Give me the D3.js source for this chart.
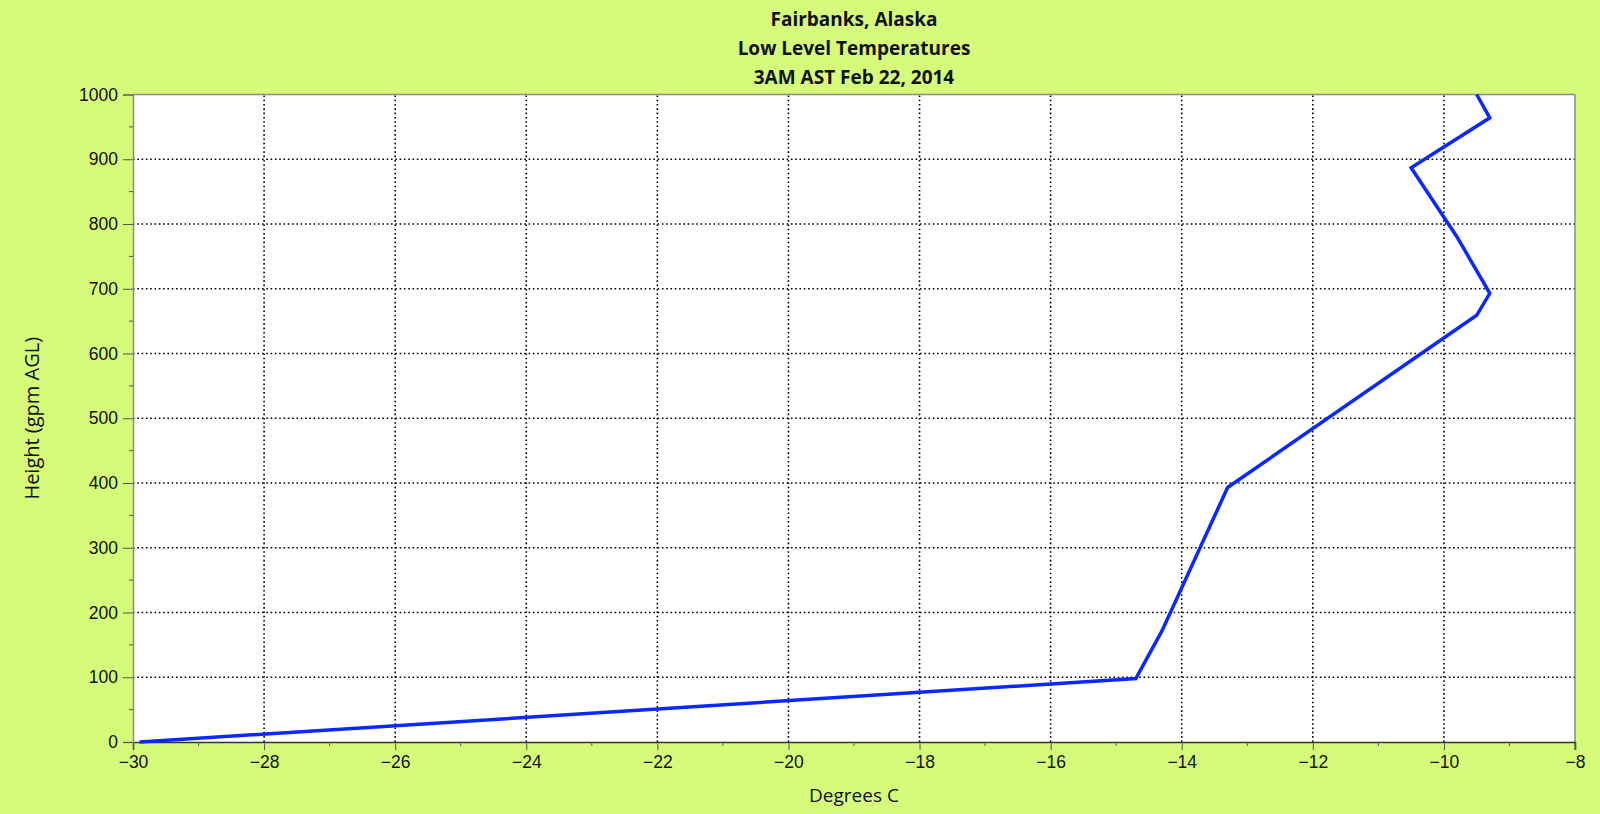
<!DOCTYPE html>
<html>
<head>
<meta charset="utf-8">
<script src="https://cdn.jsdelivr.net/npm/d3@7"></script>
<style>
  html, body { margin: 0; padding: 0; background: #d6fb7b; }
  svg { display: block; font-family: "Open Sans", "DejaVu Sans", sans-serif; }
</style>
</head>
<body>
<div id="chart"></div>
<script>
// 画布尺寸
const width = 1600;
const height = 814;
const margin = { top: 94.5, right: 25, bottom: 72, left: 133 };

// 数据：温度与高度
const temps = [-29.9, -14.7, -14.3, -13.3, -9.5, -9.3, -9.8, -10.5, -9.3, -9.5];
const heightsAGL = [0, 98, 172, 393, 659, 693, 780, 887, 964, 1000];
const xTicks = [-30, -28, -26, -24, -22, -20, -18, -16, -14, -12, -10, -8];
const yTicks = [0, 100, 200, 300, 400, 500, 600, 700, 800, 900, 1000];
const titleLines = ["Fairbanks, Alaska", "Low Level Temperatures", "3AM AST Feb 22, 2014"];

const svg = d3.select("#chart").append("svg")
    .attr("width", width)
    .attr("height", height);

svg.append("rect").attr("width", width).attr("height", height).attr("fill", "#d6fb7b");

const x = d3.scaleLinear().domain([-30, -8]).range([margin.left, width - margin.right]);
const y = d3.scaleLinear().domain([0, 1000]).range([height - margin.bottom, margin.top]);

// 绘图区背景
svg.append("rect")
    .attr("x", x(-30)).attr("y", y(1000))
    .attr("width", x(-8) - x(-30)).attr("height", y(0) - y(1000))
    .attr("fill", "#ffffff");

// 网格线（点线）
const grid = svg.append("g").attr("class", "grid");
grid.selectAll(".vgrid")
    .data(xTicks.filter(d => d !== -30 && d !== -8))
    .enter().append("line")
    .attr("x1", d => x(d)).attr("x2", d => x(d))
    .attr("y1", y(0)).attr("y2", y(1000))
    .attr("stroke", "#000").attr("stroke-width", 1.6)
    .attr("stroke-dasharray", "1.6 2.7");
grid.selectAll(".hgrid")
    .data(yTicks.filter(d => d !== 0 && d !== 1000))
    .enter().append("line")
    .attr("x1", x(-30)).attr("x2", x(-8))
    .attr("y1", d => y(d)).attr("y2", d => y(d))
    .attr("stroke", "#000").attr("stroke-width", 1.6)
    .attr("stroke-dasharray", "1.6 2.7");

// 边框
svg.append("line").attr("x1", x(-30)).attr("x2", x(-8)).attr("y1", y(1000)).attr("y2", y(1000))
    .attr("stroke", "#8a8a8a").attr("stroke-width", 1.5);
svg.append("line").attr("x1", x(-8)).attr("x2", x(-8)).attr("y1", y(1000)).attr("y2", y(0) + 8)
    .attr("stroke", "#8a8a8a").attr("stroke-width", 1.5);

// X 轴
const xAxis = svg.append("g")
    .attr("transform", `translate(0, ${y(0)})`)
    .call(d3.axisBottom(x).tickValues(xTicks).tickSize(8).tickPadding(6)
        .tickFormat(d => String(d).replace("-", "\u2212")));
xAxis.select(".domain").attr("stroke", "#333").attr("stroke-width", 1.5);
xAxis.selectAll(".tick line").attr("stroke", "#555");
xAxis.selectAll("text").attr("font-size", 17.5).attr("fill", "#111");
svg.append("g")
    .attr("transform", `translate(0, ${y(0)})`)
    .selectAll("line")
    .data(d3.range(-29, -8, 2))
    .enter().append("line")
    .attr("x1", d => x(d)).attr("x2", d => x(d))
    .attr("y1", 0).attr("y2", 4)
    .attr("stroke", "#555");

// Y 轴
const yAxis = svg.append("g")
    .attr("transform", `translate(${x(-30)}, 0)`)
    .call(d3.axisLeft(y).tickValues(yTicks).tickSize(10).tickPadding(5)
        .tickFormat(d => String(d)));
yAxis.select(".domain").attr("stroke", "#8a8a8a").attr("stroke-width", 1.5);
yAxis.selectAll(".tick line").attr("stroke", "#555");
yAxis.selectAll("text").attr("font-size", 17.5).attr("fill", "#111");
svg.append("g")
    .attr("transform", `translate(${x(-30)}, 0)`)
    .selectAll("line")
    .data(d3.range(50, 1000, 100))
    .enter().append("line")
    .attr("x1", -4).attr("x2", 0)
    .attr("y1", d => y(d)).attr("y2", d => y(d))
    .attr("stroke", "#555");

// 温度廓线
const line = d3.line()
    .x((d, i) => x(temps[i]))
    .y(d => y(d));
svg.append("path")
    .attr("d", line(heightsAGL))
    .attr("fill", "none")
    .attr("stroke", "#0a28ff")
    .attr("stroke-width", 3.5)
    .attr("stroke-linejoin", "miter");

// 标题
svg.append("g").selectAll("text")
    .data(titleLines)
    .enter().append("text")
    .attr("x", (x(-30) + x(-8)) / 2)
    .attr("y", (d, i) => 26 + i * 29)
    .attr("text-anchor", "middle")
    .attr("font-size", 19)
    .attr("font-weight", "bold")
    .attr("fill", "#111")
    .text(d => d);

// 坐标轴标题
svg.append("text")
    .attr("x", (x(-30) + x(-8)) / 2)
    .attr("y", 802)
    .attr("text-anchor", "middle")
    .attr("font-size", 19)
    .attr("fill", "#111")
    .text("Degrees C");

svg.append("text")
    .attr("transform", `translate(39, ${(y(0) + y(1000)) / 2}) rotate(-90)`)
    .attr("text-anchor", "middle")
    .attr("font-size", 20)
    .attr("fill", "#111")
    .text("Height (gpm AGL)");
</script>
</body>
</html>
